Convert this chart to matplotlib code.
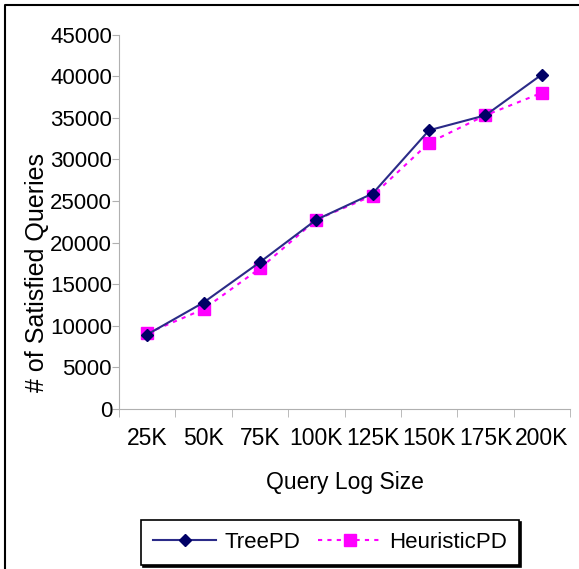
import matplotlib.pyplot as plt
from matplotlib.lines import Line2D

plt.rcParams['font.family'] = ['Liberation Sans', 'DejaVu Sans']

sizes = ['25K', '50K', '75K', '100K', '125K', '150K', '175K', '200K']
tree_pd = [8950, 12800, 17650, 22750, 25900, 33500, 35300, 40200]
heuristic_pd = [9100, 12000, 16900, 22750, 25650, 32000, 35300, 38000]
y_ticks = [0, 5000, 10000, 15000, 20000, 25000, 30000, 35000, 40000, 45000]

fig = plt.figure(figsize=(5.79, 5.69), dpi=100)
ax = fig.add_axes([0.2055, 0.2812, 0.779, 0.658])

x = range(len(sizes))
ax.plot(x, tree_pd, color='#2b2b88', lw=1.5, marker='D', markersize=6,
        markerfacecolor='#000066', markeredgecolor='#000066', label='TreePD', zorder=3)
ax.plot(x, heuristic_pd, color='#ff00ff', lw=1.5, ls=(0, (2, 2.5)), marker='s', markersize=9,
        markerfacecolor='#ff00ff', markeredgecolor='#ff00ff', label='HeuristicPD', zorder=2)

ax.set_xlim(-0.5, len(sizes) - 0.5)
ax.set_ylim(0, 45000)
ax.set_yticks(y_ticks)
ax.set_xticks(list(x))
ax.set_xticklabels(sizes)
ax.set_xticks([i - 0.5 for i in range(len(sizes) + 1)], minor=True)
ax.tick_params(axis='x', which='major', length=0, pad=13, labelsize=16.5)
ax.tick_params(axis='x', which='minor', length=6, color='#b0b0b0', direction='out')
ax.tick_params(axis='y', length=5, color='#b0b0b0', labelsize=16, pad=0)

for side in ['top', 'right']:
    ax.spines[side].set_visible(False)
for side in ['left', 'bottom']:
    ax.spines[side].set_color('#b0b0b0')

ax.set_xlabel('Query Log Size', fontsize=16.5, labelpad=15)
fig.text(37 / 579, 1 - 272 / 569, '# of Satisfied Queries', fontsize=18,
         rotation=90, ha='center', va='center')

leg = fig.legend(loc='center', bbox_to_anchor=(0.57, 0.047), ncol=2, fontsize=16,
                 frameon=True, fancybox=False, handlelength=2.85,
                 columnspacing=0.8, handletextpad=0.35, borderpad=0.55, borderaxespad=0,
                 shadow={'ox': 1.5, 'oy': -1.5, 'facecolor': 'black',
                         'edgecolor': 'black', 'alpha': 1})
leg.get_frame().set_edgecolor('black')
leg.get_frame().set_linewidth(1.2)

# figure border (left and top visible)
fig.add_artist(Line2D([0.009, 0.009, 1.0], [0.0, 0.991, 0.991], color='black', lw=1.5,
                      transform=fig.transFigure))

fig.savefig('out.png', dpi=100)
